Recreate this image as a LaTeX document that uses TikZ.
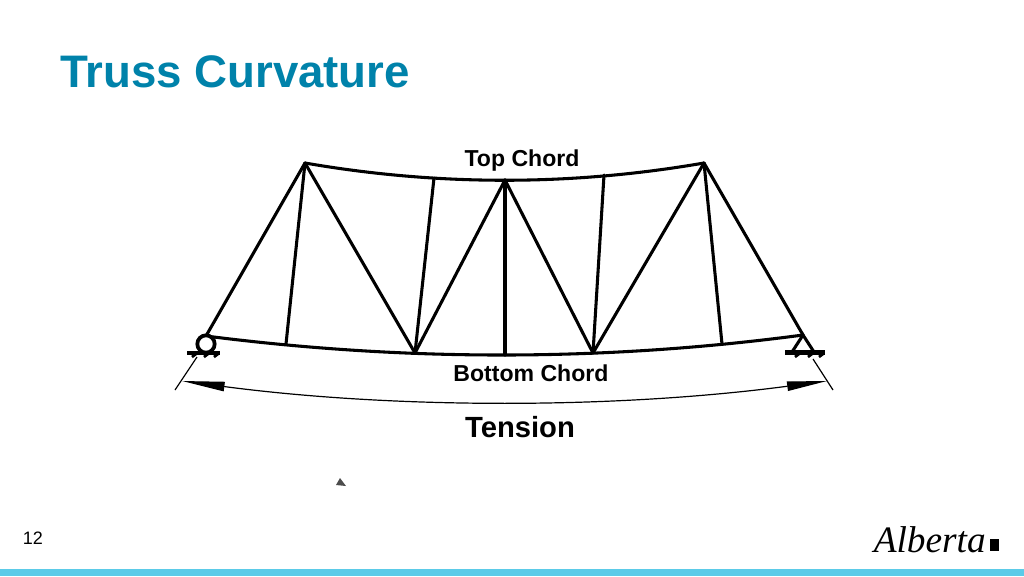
\documentclass[tikz,border=0pt]{standalone}
\usepackage{fontspec}
\setmainfont{Liberation Sans}
\newfontfamily\logofont{Liberation Serif}
\usetikzlibrary{arrows.meta}
\definecolor{titleblue}{RGB}{0,130,170}
\definecolor{barblue}{RGB}{91,203,232}
\tikzset{
    member/.style={line width=2.3pt,line cap=round},
    thinline/.style={line width=0.9pt},
    support/.style={line width=2pt},
    base/.style={line width=3.6pt},
    label/.style={font=\bfseries\fontsize{17.3}{20}\selectfont,inner sep=0pt,anchor=center}
}
\begin{document}
\begin{tikzpicture}[x=0.75pt,y=-0.75pt]
	\useasboundingbox (0,0) rectangle (1024,576);
	\fill[barblue] (0,569) rectangle (1024,576);
	% joints
	\coordinate (T1) at (305,163);
	\coordinate (T2) at (434,178);
	\coordinate (T3) at (505,180);
	\coordinate (T4) at (604,175);
	\coordinate (T5) at (704,163);
	\coordinate (B0) at (206,336);
	\coordinate (B1) at (286,344);
	\coordinate (B2) at (415,353);
	\coordinate (B3) at (505,355);
	\coordinate (B4) at (593,353);
	\coordinate (B5) at (722,344);
	\coordinate (B6) at (803,335);
	% chords
	\draw[member] (T1) .. controls (438,186) and (571,186) .. (T5);
	\draw[member] (B0) .. controls (405,361.5) and (604,361.5) .. (B6);
	% web
	\foreach \a/\b in {B0/T1,B1/T1,T1/B2,B2/T2,B2/T3,T3/B3,T3/B4,B4/T4,B4/T5,T5/B5,T5/B6}
		\draw[member] (\a) -- (\b);
	% supports
	\node[circle,draw,fill=white,line width=2.8pt,minimum size=13pt,inner sep=0pt] (roller) at (206,344) {};
	\draw[base] (187,353) -- (220,353);
	\foreach \x in {196,208,218}
		\draw[support] (\x,354) -- ++(-4,3);
	\coordinate (pinL) at (792,352);
	\coordinate (pinR) at (814,352);
	\draw[member] (pinL) -- (B6) -- (pinR);
	\draw[base] (785,352.5) -- (825,352.5);
	\foreach \x in {799,812,823}
		\draw[support] (\x,354) -- ++(-4,3);
	% span
	\coordinate (tickLa) at (175,390);
	\coordinate (tickLb) at (197,357);
	\coordinate (tickRa) at (833,390);
	\coordinate (tickRb) at (813,359);
	\coordinate (spanL) at (182,381);
	\coordinate (spanR) at (827,381);
	\draw[thinline] (tickLa) -- (tickLb);
	\draw[thinline] (tickRa) -- (tickRb);
	\draw[thinline,{Triangle[length=32pt,width=7pt]}-{Triangle[length=30pt,width=7pt]}] (spanL) .. controls (395,409) and (615,409) .. (spanR);
	% text
	\node[font=\bfseries\fontsize{34.2}{38}\selectfont,text=titleblue,inner sep=0pt,anchor=west] (title) at (60,72) {Truss Curvature};
	\node[label] (top) at (522,161) {Top Chord};
	\node[label] (bottom) at (531,373) {Bottom Chord};
	\node[label,font=\bfseries\fontsize{21.9}{25}\selectfont] (tension) at (520,427) {Tension};
	\node[font=\fontsize{13.5}{16}\selectfont,inner sep=0pt] (page) at (33,538) {12};
	\fill[black!70] (340,478) -- (346,486) -- (336,485) -- cycle;
	% logo
	\node[font=\logofont\itshape\fontsize{28}{34}\selectfont,inner sep=0pt,anchor=east] (logo) at (986,540) {Alberta};
	\fill (990,539) rectangle (999,551);
\end{tikzpicture}
\end{document}
